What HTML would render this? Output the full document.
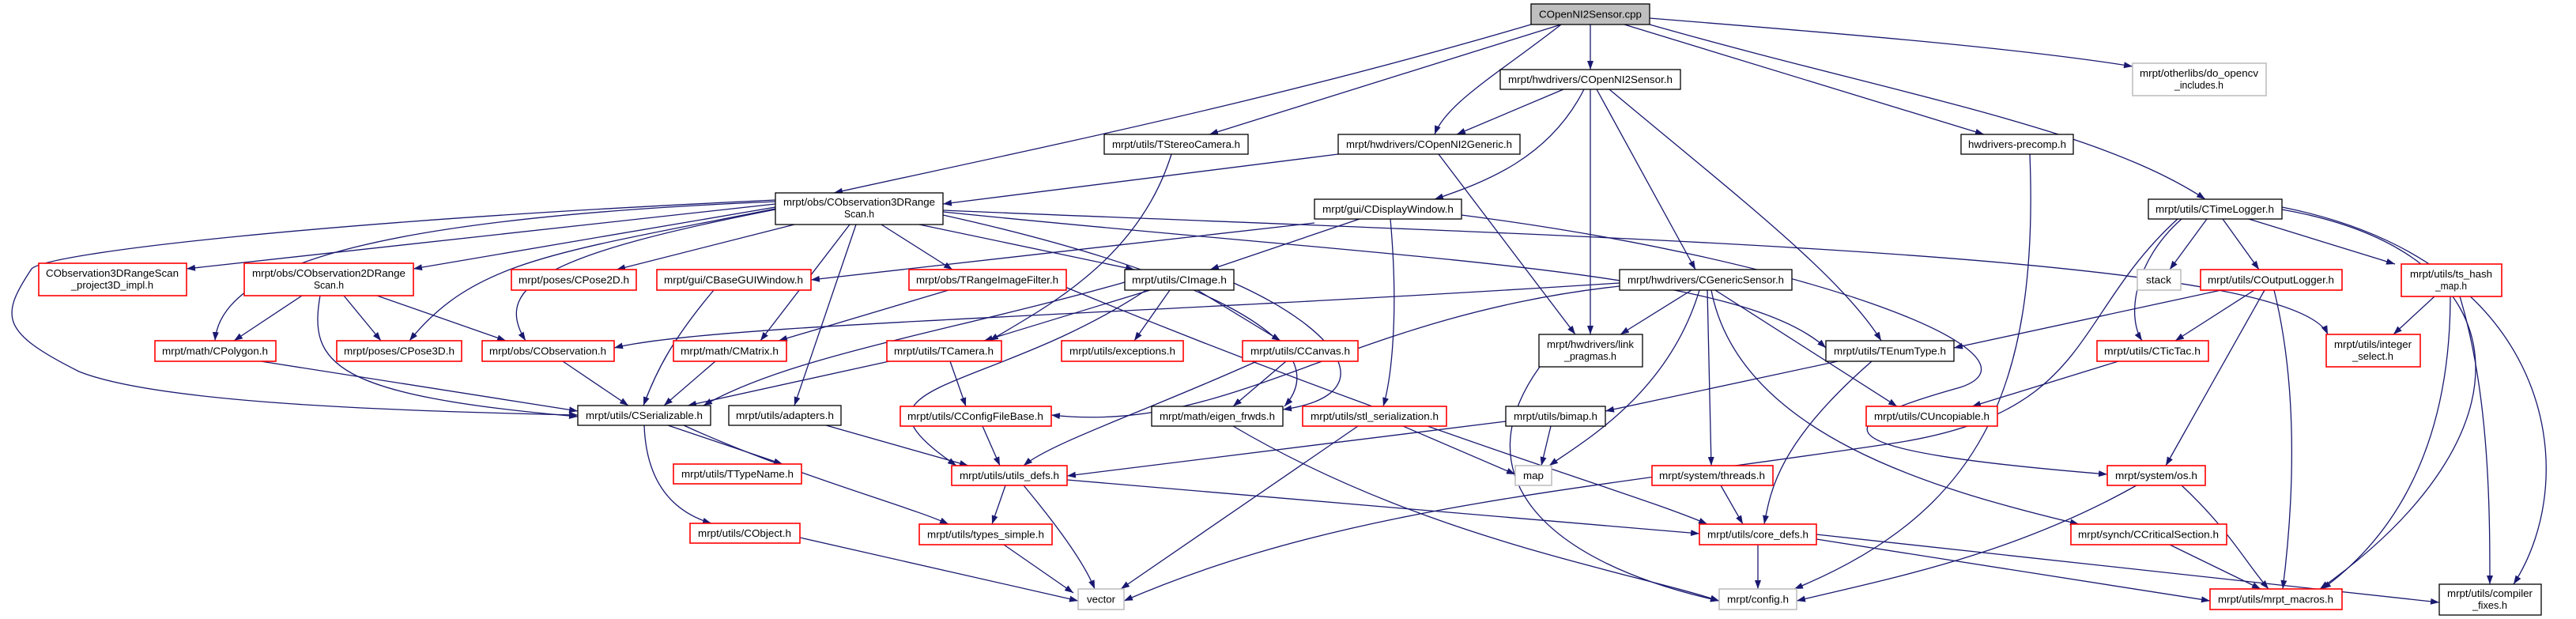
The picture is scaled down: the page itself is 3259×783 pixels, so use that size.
<!DOCTYPE html>
<html><head><meta charset="utf-8"><style>
html,body{margin:0;padding:0;background:#fff;}
svg{display:block;}
text{font-family:"Liberation Sans",sans-serif;font-size:12.5px;fill:#000;}
.e{fill:none;stroke:#191970;stroke-width:1.3;}
.k{fill:#fff;stroke:#000;stroke-width:1.3;}
.r{fill:#fff;stroke:#ff0000;stroke-width:1.6;}
.g{fill:#fff;stroke:#bfbfbf;stroke-width:1.6;}
</style></head><body>
<svg width="3259" height="783" viewBox="0 0 3259 783" xmlns="http://www.w3.org/2000/svg">
<defs><marker id="a" markerUnits="userSpaceOnUse" markerWidth="11" markerHeight="8" refX="11" refY="4" orient="auto"><path d="M0,0 L11,4 L0,8 z" fill="#191970"/></marker></defs>
<g class="e" marker-end="url(#a)">
<path d="M2012,31 L2012,88"/>
<path d="M1975,31 L1530,170"/>
<path d="M1975,31 C1900,90 1830,130 1815,170"/>
<path d="M1937,31 C1600,130 1300,190 1055,244"/>
<path d="M2087,23 C2300,40 2550,60 2698,84"/>
<path d="M2055,31 L2510,170"/>
<path d="M2087,31 C2400,120 2650,160 2790,252"/>
<path d="M1978,113 L1843,170"/>
<path d="M2004,113 C1960,200 1880,230 1815,252"/>
<path d="M2012,113 L2012,423"/>
<path d="M2020,113 L2145,341"/>
<path d="M2036,113 C2200,250 2330,350 2380,431"/>
<path d="M1482,195 C1440,330 1320,390 1252,431"/>
<path d="M1693,195 L1193,258"/>
<path d="M1820,195 L1993,423"/>
<path d="M2568,195 C2580,500 2500,650 2270,745"/>
<path d="M1663,282 L1026,354"/>
<path d="M1720,277 L1531,341"/>
<path d="M1759,277 C1770,400 1760,480 1750,514"/>
<path d="M1849,272 C2300,330 2600,450 2480,490 C2300,540 2300,570 2666,600"/>
<path d="M981,258 L236,340"/>
<path d="M981,255 C500,275 280,330 272,431"/>
<path d="M981,262 L523,340"/>
<path d="M981,253 C400,280 60,320 40,340 C0,400 0,420 100,470 C200,510 500,520 731,525"/>
<path d="M981,264 C700,320 600,330 518,431"/>
<path d="M981,265 C700,320 620,360 665,431"/>
<path d="M1005,284 L780,341"/>
<path d="M1075,284 L962,431"/>
<path d="M1083,284 L1005,513"/>
<path d="M1115,284 L1205,341"/>
<path d="M1163,284 L1435,341"/>
<path d="M1193,272 C1500,340 1700,430 1625,514"/>
<path d="M1193,268 C1800,330 2200,340 2310,440"/>
<path d="M1193,266 C2000,300 2900,320 2945,423"/>
<path d="M1455,367 L1245,431"/>
<path d="M1480,367 L1435,431"/>
<path d="M1515,367 L1620,431"/>
<path d="M1423,357 C1200,420 1000,450 890,513"/>
<path d="M1450,367 C1250,500 1050,480 1210,589"/>
<path d="M1561,358 C1700,420 1750,500 1623,518"/>
<path d="M1200,367 L985,431"/>
<path d="M1345,362 C1800,550 2060,620 2160,663"/>
<path d="M2049,358 C1400,400 900,410 777,440"/>
<path d="M2049,362 C1700,400 1560,550 1330,525"/>
<path d="M2140,367 L2050,423"/>
<path d="M2150,367 C2110,500 2000,560 1960,589"/>
<path d="M2160,367 L2165,589"/>
<path d="M2170,367 L2400,514"/>
<path d="M2165,367 C2200,550 2450,620 2630,663"/>
<path d="M903,367 C850,430 830,470 814,513"/>
<path d="M382,374 L296,431"/>
<path d="M435,374 L482,431"/>
<path d="M477,374 L640,431"/>
<path d="M405,374 C390,460 420,500 731,527"/>
<path d="M330,457 L731,520"/>
<path d="M712,457 L795,513"/>
<path d="M905,457 L840,513"/>
<path d="M1125,457 L870,513"/>
<path d="M1202,457 L1222,514"/>
<path d="M1590,457 C1450,520 1330,560 1295,589"/>
<path d="M1627,457 L1560,514"/>
<path d="M1243,539 L1265,589"/>
<path d="M1045,538 L1225,589"/>
<path d="M1560,539 C1800,680 2050,720 2175,760"/>
<path d="M1775,539 L1917,600"/>
<path d="M1718,539 L1418,745"/>
<path d="M1962,539 L1950,589"/>
<path d="M1905,533 L1350,602"/>
<path d="M1272,614 L1255,663"/>
<path d="M1295,614 C1350,680 1375,720 1385,745"/>
<path d="M1350,607 L2150,675"/>
<path d="M1948,464 C1850,600 1950,710 2175,760"/>
<path d="M845,538 L990,587"/>
<path d="M815,538 C818,620 860,650 900,662"/>
<path d="M865,538 C1000,600 1150,640 1200,663"/>
<path d="M1012,680 L1364,760"/>
<path d="M1270,689 L1358,750"/>
<path d="M2177,614 L2205,663"/>
<path d="M2325,457 L2031,520"/>
<path d="M2368,457 C2250,560 2240,620 2232,663"/>
<path d="M2792,277 L2745,341"/>
<path d="M2812,277 L2858,341"/>
<path d="M2845,277 L3030,334"/>
<path d="M2760,277 C2700,330 2690,400 2710,431"/>
<path d="M2755,277 C2620,400 2650,520 2400,560 C2000,620 1700,640 1422,760"/>
<path d="M2887,265 C3200,320 3210,550 2935,745"/>
<path d="M2887,262 C3230,330 3270,600 3180,739"/>
<path d="M2810,367 L2472,440"/>
<path d="M2852,367 L2752,431"/>
<path d="M2865,367 L2740,589"/>
<path d="M2877,367 C2910,500 2900,650 2888,745"/>
<path d="M3080,375 L3028,423"/>
<path d="M3100,375 C3100,600 3000,700 2938,745"/>
<path d="M3112,375 C3150,500 3150,650 3150,739"/>
<path d="M2680,457 L2495,514"/>
<path d="M2703,614 C2550,700 2400,730 2273,760"/>
<path d="M2760,614 C2820,670 2840,710 2870,745"/>
<path d="M2224,689 L2224,745"/>
<path d="M2298,682 L2796,760"/>
<path d="M2298,676 L3086,762"/>
<path d="M2745,689 L2860,745"/>
</g>
<g text-anchor="middle">
<rect x="1937" y="5" width="150" height="26" fill="#bfbfbf" stroke="#000" stroke-width="1.3"/><text x="2012" y="22.5" textLength="130" lengthAdjust="spacingAndGlyphs">COpenNI2Sensor.cpp</text>
<rect class="g" x="2698" y="80" width="169" height="41"/><text x="2782" y="97" textLength="150" lengthAdjust="spacingAndGlyphs">mrpt/otherlibs/do_opencv</text><text x="2782" y="112" textLength="62" lengthAdjust="spacingAndGlyphs">_includes.h</text>
<rect class="k" x="1898" y="88" width="228" height="25"/><text x="2012" y="105" textLength="208" lengthAdjust="spacingAndGlyphs">mrpt/hwdrivers/COpenNI2Sensor.h</text>
<rect class="k" x="1397" y="170" width="182" height="25"/><text x="1488" y="187" textLength="162" lengthAdjust="spacingAndGlyphs">mrpt/utils/TStereoCamera.h</text>
<rect class="k" x="1693" y="170" width="230" height="25"/><text x="1808" y="187" textLength="210" lengthAdjust="spacingAndGlyphs">mrpt/hwdrivers/COpenNI2Generic.h</text>
<rect class="k" x="2481" y="170" width="142" height="25"/><text x="2552" y="187" textLength="124" lengthAdjust="spacingAndGlyphs">hwdrivers-precomp.h</text>
<rect class="k" x="981" y="244" width="212" height="40"/><text x="1087" y="260" textLength="192" lengthAdjust="spacingAndGlyphs">mrpt/obs/CObservation3DRange</text><text x="1087" y="275" textLength="38" lengthAdjust="spacingAndGlyphs">Scan.h</text>
<rect class="k" x="1663" y="252" width="186" height="25"/><text x="1756" y="269" textLength="166" lengthAdjust="spacingAndGlyphs">mrpt/gui/CDisplayWindow.h</text>
<rect class="k" x="2718" y="252" width="169" height="25"/><text x="2802" y="269" textLength="150" lengthAdjust="spacingAndGlyphs">mrpt/utils/CTimeLogger.h</text>
<rect class="r" x="49" y="333" width="187" height="41"/><text x="142" y="350" textLength="168" lengthAdjust="spacingAndGlyphs">CObservation3DRangeScan</text><text x="142" y="365" textLength="104" lengthAdjust="spacingAndGlyphs">_project3D_impl.h</text>
<rect class="r" x="309" y="333" width="214" height="41"/><text x="416" y="350" textLength="194" lengthAdjust="spacingAndGlyphs">mrpt/obs/CObservation2DRange</text><text x="416" y="365" textLength="38" lengthAdjust="spacingAndGlyphs">Scan.h</text>
<rect class="r" x="647" y="341" width="158" height="26"/><text x="726" y="358.5" textLength="140" lengthAdjust="spacingAndGlyphs">mrpt/poses/CPose2D.h</text>
<rect class="r" x="831" y="341" width="195" height="26"/><text x="928" y="358.5" textLength="176" lengthAdjust="spacingAndGlyphs">mrpt/gui/CBaseGUIWindow.h</text>
<rect class="r" x="1150" y="341" width="199" height="26"/><text x="1249" y="358.5" textLength="180" lengthAdjust="spacingAndGlyphs">mrpt/obs/TRangeImageFilter.h</text>
<rect class="k" x="1423" y="341" width="138" height="26"/><text x="1492" y="358.5" textLength="120" lengthAdjust="spacingAndGlyphs">mrpt/utils/CImage.h</text>
<rect class="k" x="2049" y="341" width="218" height="26"/><text x="2158" y="358.5" textLength="198" lengthAdjust="spacingAndGlyphs">mrpt/hwdrivers/CGenericSensor.h</text>
<rect class="g" x="2704" y="341" width="55" height="26"/><text x="2731" y="358.5" textLength="32" lengthAdjust="spacingAndGlyphs">stack</text>
<rect class="r" x="2784" y="341" width="179" height="26"/><text x="2873" y="358.5" textLength="160" lengthAdjust="spacingAndGlyphs">mrpt/utils/COutputLogger.h</text>
<rect class="r" x="3038" y="334" width="127" height="41"/><text x="3101" y="351" textLength="104" lengthAdjust="spacingAndGlyphs">mrpt/utils/ts_hash</text><text x="3101" y="366" textLength="40" lengthAdjust="spacingAndGlyphs">_map.h</text>
<rect class="r" x="196" y="431" width="153" height="26"/><text x="272" y="448.5" textLength="134" lengthAdjust="spacingAndGlyphs">mrpt/math/CPolygon.h</text>
<rect class="r" x="426" y="431" width="158" height="26"/><text x="505" y="448.5" textLength="140" lengthAdjust="spacingAndGlyphs">mrpt/poses/CPose3D.h</text>
<rect class="r" x="610" y="431" width="167" height="26"/><text x="693" y="448.5" textLength="148" lengthAdjust="spacingAndGlyphs">mrpt/obs/CObservation.h</text>
<rect class="r" x="852" y="431" width="143" height="26"/><text x="923" y="448.5" textLength="124" lengthAdjust="spacingAndGlyphs">mrpt/math/CMatrix.h</text>
<rect class="r" x="1122" y="431" width="145" height="26"/><text x="1194" y="448.5" textLength="126" lengthAdjust="spacingAndGlyphs">mrpt/utils/TCamera.h</text>
<rect class="r" x="1343" y="431" width="154" height="26"/><text x="1420" y="448.5" textLength="134" lengthAdjust="spacingAndGlyphs">mrpt/utils/exceptions.h</text>
<rect class="r" x="1572" y="431" width="146" height="26"/><text x="1645" y="448.5" textLength="126" lengthAdjust="spacingAndGlyphs">mrpt/utils/CCanvas.h</text>
<rect class="k" x="1947" y="423" width="131" height="41"/><text x="2012" y="440" textLength="110" lengthAdjust="spacingAndGlyphs">mrpt/hwdrivers/link</text><text x="2012" y="455" textLength="66" lengthAdjust="spacingAndGlyphs">_pragmas.h</text>
<rect class="k" x="2310" y="431" width="162" height="26"/><text x="2391" y="448.5" textLength="142" lengthAdjust="spacingAndGlyphs">mrpt/utils/TEnumType.h</text>
<rect class="r" x="2653" y="431" width="141" height="26"/><text x="2723" y="448.5" textLength="122" lengthAdjust="spacingAndGlyphs">mrpt/utils/CTicTac.h</text>
<rect class="r" x="2943" y="423" width="119" height="41"/><text x="3002" y="440" textLength="98" lengthAdjust="spacingAndGlyphs">mrpt/utils/integer</text><text x="3002" y="455" textLength="52" lengthAdjust="spacingAndGlyphs">_select.h</text>
<rect class="k" x="731" y="513" width="168" height="25"/><text x="815" y="530" textLength="148" lengthAdjust="spacingAndGlyphs">mrpt/utils/CSerializable.h</text>
<rect class="k" x="922" y="513" width="142" height="25"/><text x="993" y="530" textLength="124" lengthAdjust="spacingAndGlyphs">mrpt/utils/adapters.h</text>
<rect class="r" x="1139" y="514" width="191" height="25"/><text x="1234" y="531" textLength="172" lengthAdjust="spacingAndGlyphs">mrpt/utils/CConfigFileBase.h</text>
<rect class="k" x="1457" y="514" width="166" height="25"/><text x="1540" y="531" textLength="146" lengthAdjust="spacingAndGlyphs">mrpt/math/eigen_frwds.h</text>
<rect class="r" x="1648" y="514" width="182" height="25"/><text x="1739" y="531" textLength="162" lengthAdjust="spacingAndGlyphs">mrpt/utils/stl_serialization.h</text>
<rect class="k" x="1905" y="514" width="126" height="25"/><text x="1968" y="531" textLength="106" lengthAdjust="spacingAndGlyphs">mrpt/utils/bimap.h</text>
<rect class="r" x="2361" y="514" width="166" height="25"/><text x="2444" y="531" textLength="146" lengthAdjust="spacingAndGlyphs">mrpt/utils/CUncopiable.h</text>
<rect class="r" x="852" y="587" width="162" height="25"/><text x="933" y="604" textLength="142" lengthAdjust="spacingAndGlyphs">mrpt/utils/TTypeName.h</text>
<rect class="r" x="1204" y="589" width="146" height="25"/><text x="1277" y="606" textLength="126" lengthAdjust="spacingAndGlyphs">mrpt/utils/utils_defs.h</text>
<rect class="g" x="1917" y="589" width="46" height="25"/><text x="1940" y="606" textLength="26" lengthAdjust="spacingAndGlyphs">map</text>
<rect class="r" x="2090" y="589" width="153" height="25"/><text x="2166" y="606" textLength="134" lengthAdjust="spacingAndGlyphs">mrpt/system/threads.h</text>
<rect class="r" x="2666" y="589" width="124" height="25"/><text x="2728" y="606" textLength="104" lengthAdjust="spacingAndGlyphs">mrpt/system/os.h</text>
<rect class="r" x="873" y="662" width="139" height="25"/><text x="942" y="679" textLength="118" lengthAdjust="spacingAndGlyphs">mrpt/utils/CObject.h</text>
<rect class="r" x="1163" y="663" width="168" height="26"/><text x="1247" y="680.5" textLength="148" lengthAdjust="spacingAndGlyphs">mrpt/utils/types_simple.h</text>
<rect class="r" x="2150" y="663" width="148" height="26"/><text x="2224" y="680.5" textLength="128" lengthAdjust="spacingAndGlyphs">mrpt/utils/core_defs.h</text>
<rect class="r" x="2620" y="663" width="197" height="26"/><text x="2718" y="680.5" textLength="178" lengthAdjust="spacingAndGlyphs">mrpt/synch/CCriticalSection.h</text>
<rect class="g" x="1364" y="745" width="58" height="26"/><text x="1393" y="762.5" textLength="36" lengthAdjust="spacingAndGlyphs">vector</text>
<rect class="g" x="2175" y="745" width="98" height="26"/><text x="2224" y="762.5" textLength="78" lengthAdjust="spacingAndGlyphs">mrpt/config.h</text>
<rect class="r" x="2796" y="745" width="167" height="26"/><text x="2879" y="762.5" textLength="146" lengthAdjust="spacingAndGlyphs">mrpt/utils/mrpt_macros.h</text>
<rect class="k" x="3086" y="739" width="129" height="39"/><text x="3150" y="755" textLength="108" lengthAdjust="spacingAndGlyphs">mrpt/utils/compiler</text><text x="3150" y="770" textLength="44" lengthAdjust="spacingAndGlyphs">_fixes.h</text>
</g>
</svg>
</body></html>
